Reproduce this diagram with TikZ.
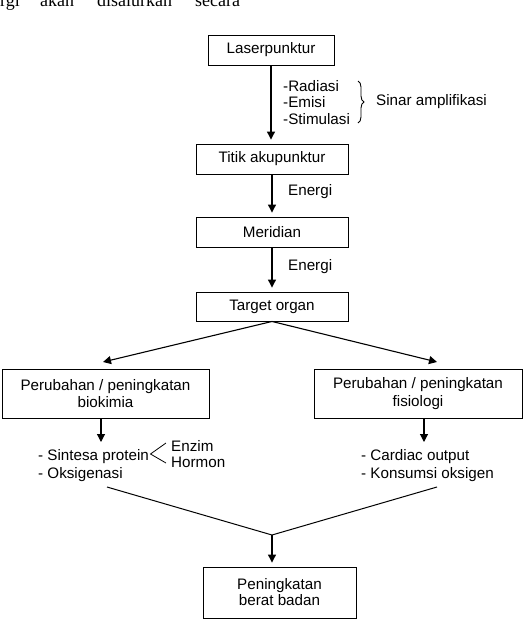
\documentclass[tikz,border=0pt]{standalone}
\usepackage{fontspec}
\setmainfont{Liberation Sans}
\newfontfamily\bodyserif{Liberation Serif}
\usetikzlibrary{arrows.meta,decorations.pathreplacing,calc}
\tikzset{
  box/.style={draw, line width=0.9pt, align=center, inner sep=0pt},
  lbl/.style={inner sep=0pt, anchor=west, align=left},
  arr/.style={line width=1.1pt, -{Triangle[length=8pt,width=8pt]}, shorten >=4pt},
  ln/.style={line width=1pt},
  fnt/.style={font=\fontsize{15.2}{17.5}\selectfont},
  topword/.style={inner sep=0pt, font=\bodyserif\fontsize{18}{20}\selectfont}
}
\begin{document}
\begin{tikzpicture}[x=1pt,y=1pt,fnt]
\useasboundingbox (0,0) rectangle (528,-622);
\clip (0,0) rectangle (528,-622);
% clipped body text line at top
\node[topword, anchor=base east] (w1) at (20,-6) {ergi};
\node[topword, anchor=base west] (w2) at (40,-6) {akan};
\node[topword, anchor=base west] (w3) at (97,-6) {disalurkan};
\node[topword, anchor=base west] (w4) at (195,-6) {secara};

% boxes
\node[box, minimum width=126pt, minimum height=30pt] (laser) at (271,-50) {Laserpunktur};
\node[box, minimum width=152pt, minimum height=30pt] (titik) at (272,-159) {Titik akupunktur};
\node[box, minimum width=152pt, minimum height=30pt] (meridian) at (272,-232) {Meridian};
\node[box, minimum width=152pt, minimum height=29pt] (target) at (272,-306.5) {Target organ};
\node[box, minimum width=207pt, minimum height=49pt] (biok) at (105.5,-393.5) {Perubahan / peningkatan\\biokimia};
\node[box, minimum width=208pt, minimum height=49pt] (fisio) at (418,-393.5) {Perubahan / peningkatan\\fisiologi};
\node[box, minimum width=153pt, minimum height=51pt, font=\fontsize{15.2}{16}\selectfont] (final) at (279.5,-592.5) {Peningkatan\\berat badan};

% labels
\node[lbl, font=\fontsize{15.2}{16.5}\selectfont] (rad) at (283,-102.5) {-Radiasi\\-Emisi\\-Stimulasi};
\node[lbl] (sinar) at (376,-102) {Sinar amplifikasi};
\node[lbl] (en1) at (288,-192) {Energi};
\node[lbl] (en2) at (288,-267) {Energi};
\node[lbl, font=\fontsize{15.2}{18}\selectfont] (leftitems) at (38,-466) {- Sintesa protein\\- Oksigenasi};
\node[lbl, font=\fontsize{15.2}{16}\selectfont] (enz) at (171,-454) {Enzim\\Hormon};
\node[lbl, font=\fontsize{15.2}{18}\selectfont] (rightitems) at (361,-466) {- Cardiac output\\- Konsumsi oksigen};

% brace
\coordinate (bt) at (358,-81);
\coordinate (bb) at (358,-123);
\draw[line width=0.9pt, decorate, decoration={brace, amplitude=6pt}] (bt) -- (bb);

% vertical arrows
\draw[arr] (laser.south) -- (laser.south |- titik.north);
\draw[arr] (titik.south) -- (meridian.north);
\draw[arr] (meridian.south) -- (target.north);

% split arrows
\coordinate (lt) at (103,-362);
\coordinate (rt) at (437,-362);
\draw[line width=1.1pt, -{Triangle[length=8pt,width=8pt]}] (target.south) -- (lt);
\draw[line width=1.1pt, -{Triangle[length=8pt,width=8pt]}] (target.south) -- (rt);

% arrows below boxes
\coordinate (la) at (101,-446);
\coordinate (ra) at (424,-446);
\draw[arr] (biok.south -| la) -- (la);
\draw[arr] (fisio.south -| ra) -- (ra);

% branch lines
\coordinate (bp) at (150.5,-454);
\coordinate (bu) at (166,-443);
\coordinate (bd) at (166,-463);
\draw[line width=0.8pt] (bu) -- (bp) -- (bd);

% merge lines
\coordinate (ml) at (107,-487);
\coordinate (mr) at (437,-487);
\coordinate (mm) at (272,-535);
\draw[ln] (ml) -- (mm) -- (mr);
\draw[arr] (mm) -- (mm |- final.north);
\end{tikzpicture}
\end{document}
